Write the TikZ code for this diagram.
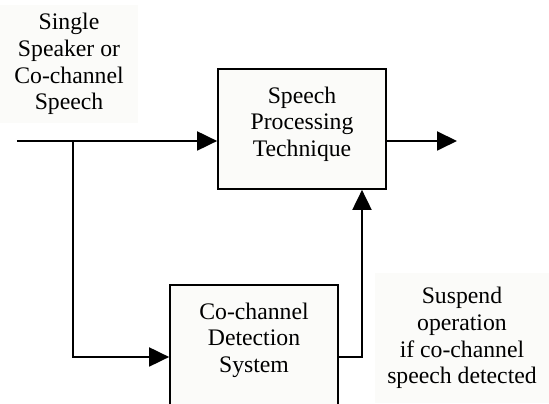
\documentclass[tikz,border=0pt]{standalone}
\usepackage{fontspec}
\setmainfont{Liberation Serif}
\usepackage{xcolor}
\usetikzlibrary{arrows.meta,positioning}
\definecolor{boxbg}{RGB}{251,251,249}
\definecolor{labelbg}{RGB}{251,251,249}
\definecolor{linecol}{RGB}{0,0,0}

\begin{document}
\begin{tikzpicture}[
    x=0.02cm, y=-0.02cm,
    >={Triangle[length=0.4cm, width=0.38cm]},
    block/.style={draw=linecol, line width=1pt, fill=boxbg, align=center,
        minimum width=3.36cm, minimum height=2.4cm, inner sep=0pt, text depth=0.3cm},
    note/.style={fill=labelbg, align=center, inner sep=0pt},
    wire/.style={linecol, line width=1.1pt}
]
\useasboundingbox (0,0) rectangle (549,404);
\fontsize{13.5}{15.2}\selectfont

% Input label
\node[note, minimum width=2.76cm, minimum height=2.38cm] (INLBL) at (69,64) {Single\\Speaker or\\Co-channel\\Speech};

% Main processing block
\node[block] (SPT) at (302,129) {Speech\\Processing\\Technique};

% Detection block (runs past the bottom edge)
\node[block] (DET) at (254,345) {Co-channel\\Detection\\System};

% Control label
\node[note, minimum width=3.48cm, minimum height=2.6cm] (CTRL) at (462,338) {Suspend\\operation\\if co-channel\\speech detected};

% Signal path
\coordinate (IN) at (17,141);
\coordinate (BR) at (73,141);
\coordinate (OUT) at (457,141);
\coordinate (FB) at (362,357);
\draw[wire, ->] (IN) -- (IN -| SPT.west);
\draw[wire, ->] (SPT.east |- OUT) -- (OUT);

% Branch to detector and control back to processor
\draw[wire, ->] (BR) |- (DET.west |- FB);
\draw[wire, ->] (DET.east |- FB) -- (FB) -- (FB |- SPT.south);

\end{tikzpicture}
\end{document}
